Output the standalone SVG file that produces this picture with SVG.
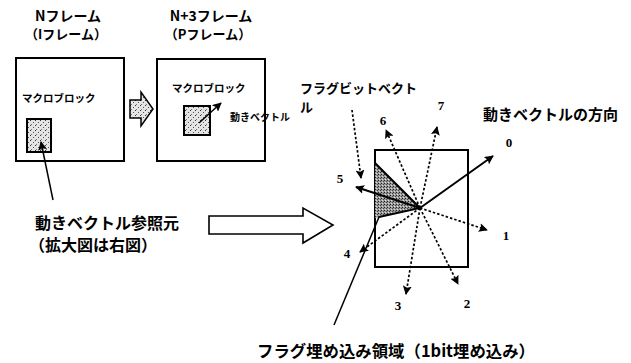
<svg xmlns="http://www.w3.org/2000/svg" width="631" height="363" viewBox="0 0 631 363">
<style>
.t{font-family:"Noto Sans CJK JP","Noto Sans",sans-serif;font-weight:bold;fill:#000}
.n{font-family:"Liberation Serif",serif;font-weight:bold;font-size:13px;fill:#000;text-anchor:middle}
.box{fill:#fff;stroke:#000;stroke-width:2}
.ln{fill:none;stroke:#000;stroke-width:1.5}
.dot{fill:none;stroke:#000;stroke-width:1.7;stroke-dasharray:2.5,2}
.sol{fill:none;stroke:#000;stroke-width:2}
</style>
<defs>
<pattern id="st" width="5" height="5" patternUnits="userSpaceOnUse">
<rect width="5" height="5" fill="#e4e4e4"/>
<rect x="0" y="0" width="1" height="1" fill="#333"/>
<rect x="3" y="2" width="1" height="1" fill="#555"/>
<rect x="1" y="4" width="1" height="1" fill="#777"/>
</pattern>
<pattern id="dk" width="3" height="3" patternUnits="userSpaceOnUse">
<rect width="3" height="3" fill="#9a9a9a"/>
<rect x="0" y="0" width="1" height="1" fill="#222"/>
<rect x="2" y="1" width="1" height="1" fill="#444"/>
<rect x="1" y="2" width="1" height="1" fill="#ddd"/>
</pattern>
<marker id="ah" viewBox="0 0 10 10" refX="9" refY="5" markerWidth="9" markerHeight="9" markerUnits="userSpaceOnUse" orient="auto">
<path d="M0,0 L10,5 L0,10 L2,5 z" fill="#000"/>
</marker>
</defs>

<g id="frameN">
<text class="t" x="68" y="21" font-size="14" text-anchor="middle">Nフレーム</text>
<text class="t" x="66" y="39" font-size="13" text-anchor="middle">（Iフレーム）</text>
<rect class="box" x="16" y="58" width="108" height="103"/>
<text class="t" x="22" y="102" font-size="10.5">マクロブロック</text>
<rect x="27" y="119" width="24" height="33" fill="url(#st)" stroke="#000" stroke-width="2"/>
</g>

<g id="frameN3">
<text class="t" x="211" y="21" font-size="14" text-anchor="middle">N+3フレーム</text>
<text class="t" x="208" y="39" font-size="13" text-anchor="middle">（Pフレーム）</text>
<rect class="box" x="157" y="59" width="108" height="102"/>
<text class="t" x="172" y="92" font-size="10.5">マクロブロック</text>
<rect x="184" y="106" width="26" height="29" fill="url(#st)" stroke="#000" stroke-width="2"/>
<text class="t" x="230" y="121" font-size="10">動きベクトル</text>
</g>

<g id="smallArrow">
<path d="M130,100 L141,100 L141,92 L153,109 L141,126 L141,118 L130,118 z" fill="url(#st)" stroke="#000" stroke-width="1.5"/>
</g>

<g id="refLabel">
<text class="t" x="35" y="229" font-size="16">動きベクトル参照元</text>
<text class="t" x="29" y="251" font-size="16">（拡大図は右図）</text>
</g>

<g id="bigArrow">
<path d="M209,216 L303,216 L303,208 L333,225 L303,243 L303,234 L209,234 z" fill="#fff" stroke="#000" stroke-width="1.6"/>
</g>

<g id="detail">
<rect class="box" x="375" y="150" width="93" height="117"/>
<path d="M375,163 L420,208 L379,217 L375,218 z" fill="url(#dk)" stroke="none"/>
<path d="M375,163 L420,208 L379,217" class="sol"/>
</g>

<g id="labels">
<text class="t" x="300" y="93" font-size="13">フラグビットベクト</text>
<text class="t" x="300" y="112" font-size="13">ル</text>
<text class="t" x="483" y="120" font-size="15">動きベクトルの方向</text>
<text class="t" x="257" y="357" font-size="16.4">フラグ埋め込み領域（1bit埋め込み）</text>
<text class="n" x="509" y="147">0</text>
<text class="n" x="506" y="240">1</text>
<text class="n" x="467" y="308">2</text>
<text class="n" x="398" y="310">3</text>
<text class="n" x="347" y="258">4</text>
<text class="n" x="340" y="183">5</text>
<text class="n" x="383" y="125">6</text>
<text class="n" x="441" y="110">7</text>
</g>

<g id="connectors">
<line class="ln" x1="53" y1="200" x2="41" y2="142" stroke-width="2" marker-end="url(#ah)"/>
<line class="ln" x1="199" y1="123" x2="221" y2="103" stroke-width="2" marker-end="url(#ah)"/>
<line class="sol" x1="420" y1="208" x2="493" y2="156" stroke-width="2.2" marker-end="url(#ah)"/>
<line class="dot" x1="420" y1="208" x2="487" y2="230" marker-end="url(#ah)"/>
<line class="dot" x1="420" y1="208" x2="458" y2="284" marker-end="url(#ah)"/>
<line class="dot" x1="420" y1="208" x2="406" y2="294" marker-end="url(#ah)"/>
<line class="dot" x1="420" y1="208" x2="360" y2="252" marker-end="url(#ah)"/>
<line class="sol" x1="420" y1="208" x2="356" y2="187" marker-end="url(#ah)"/>
<line class="dot" x1="420" y1="208" x2="386" y2="130" marker-end="url(#ah)"/>
<line class="dot" x1="420" y1="208" x2="437" y2="127" marker-end="url(#ah)"/>
<line class="dot" x1="352" y1="110" x2="361" y2="178" marker-end="url(#ah)"/>
<line class="ln" x1="334" y1="325" x2="379" y2="217"/>
</g>
</svg>
